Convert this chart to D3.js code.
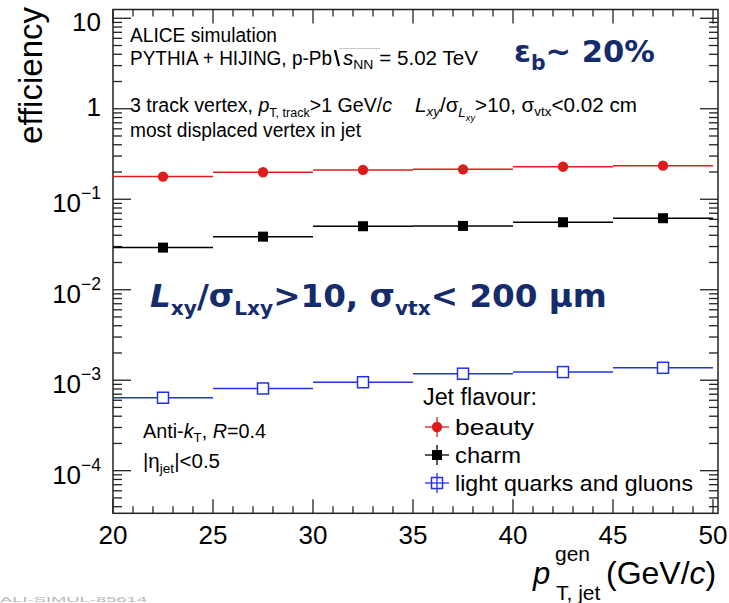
<!DOCTYPE html>
<html>
<head>
<meta charset="utf-8">
<script src="https://cdn.jsdelivr.net/npm/d3@7"></script>
<style>
  html, body { margin: 0; padding: 0; background: #fff; }
  svg text { white-space: pre; }
</style>
</head>
<body>
<svg id="chart" width="729" height="603"></svg>
<script>
// Jet-flavour efficiency vs generated jet pT (bin edges in GeV/c)
const binEdges = [20, 25, 30, 35, 40, 45, 50];
const beauty = [0.178, 0.199, 0.211, 0.214, 0.229, 0.235];
const charm  = [0.0292, 0.0386, 0.0503, 0.0507, 0.0557, 0.0617];
const light  = [0.00064, 0.00081, 0.00095, 0.00118, 0.00123, 0.00137];
const xTickLabels = [20, 25, 30, 35, 40, 45, 50];
const yDecades = [-4, -3, -2, -1, 0, 1];
const legendLabels = ["beauty", "charm", "light quarks and gluons"];

const FONT = "'Liberation Sans', Arial, Helvetica, sans-serif";
const WIDE = "'DejaVu Sans', Verdana, sans-serif";
const RED = "#dd1c1c", BLACK = "#000", BLUE = "#2230e6", NAVY = "#142b6c";

const svg = d3.select("#chart");
svg.append("rect").attr("width", 729).attr("height", 603).attr("fill", "#fff");

const frame = { left: 113, right: 718, top: 9.5, bottom: 513.3 };
const x = d3.scaleLinear().domain([20, 50]).range([113, 713]);
const y = d3.scaleLog().domain([Math.pow(10, -4.471), Math.pow(10, 1.097)]).range([frame.bottom, frame.top]);

// rich text: parts are strings or {t, s, dy, i, b}
function rich(sel, px, py, parts, base) {
  const t = sel.append("text").attr("x", px).attr("y", py)
    .attr("font-family", base.family || FONT).attr("font-size", base.size)
    .attr("fill", base.fill || "#000")
    .attr("font-weight", base.weight || "normal")
    .attr("text-anchor", base.anchor || "start");
  if (base.italic) t.attr("font-style", "italic");
  if (base.len) t.attr("textLength", base.len).attr("lengthAdjust", "spacingAndGlyphs");
  let cur = 0;
  parts.forEach(p => {
    const o = typeof p === "string" ? { t: p } : p;
    const shift = o.dy || 0;
    const ts = t.append("tspan").text(o.t).attr("dy", shift - cur);
    cur = shift;
    if (o.s) ts.attr("font-size", o.s);
    if (o.i) ts.attr("font-style", "italic");
    if (o.b) ts.attr("font-weight", "bold");
  });
  return t;
}
// scale a text uniformly about its anchor so that it spans the given width
function fitWidth(t, px, py, width) {
  const w = t.node().getComputedTextLength();
  const k = width / w;
  t.attr("transform", `translate(${px},${py}) scale(${k}) translate(${-px},${-py})`);
}

// ---- axes ticks ----
const axisG = svg.append("g").attr("stroke", "#222").attr("stroke-width", 1.3);
d3.range(20, 51, 1).forEach(v => {
  const major = v % 5 === 0;
  const len = major ? 14 : 7;
  axisG.append("line").attr("x1", x(v)).attr("x2", x(v)).attr("y1", frame.bottom).attr("y2", frame.bottom - len);
  axisG.append("line").attr("x1", x(v)).attr("x2", x(v)).attr("y1", frame.top).attr("y2", frame.top + len);
});
const yMin = y.domain()[0], yMax = y.domain()[1];
for (let d = -5; d <= 1; d++) {
  for (let m = 1; m <= 9; m++) {
    const v = m * Math.pow(10, d);
    if (v < yMin || v > yMax) continue;
    const len = m === 1 ? 18 : 9;
    axisG.append("line").attr("x1", frame.left).attr("x2", frame.left + len).attr("y1", y(v)).attr("y2", y(v));
    axisG.append("line").attr("x1", frame.right).attr("x2", frame.right - len).attr("y1", y(v)).attr("y2", y(v));
  }
}
svg.append("rect").attr("x", frame.left).attr("y", frame.top)
  .attr("width", frame.right - frame.left).attr("height", frame.bottom - frame.top)
  .attr("fill", "none").attr("stroke", "#222").attr("stroke-width", 1.5);

// tick labels
xTickLabels.forEach(v => {
  svg.append("text").attr("x", x(v)).attr("y", 544).attr("text-anchor", "middle")
    .attr("font-family", FONT).attr("font-size", 26).text(v);
});
yDecades.forEach(d => {
  const yy = y(Math.pow(10, d));
  if (d === 1) rich(svg, 101, yy + 13, ["10"], { size: 26, anchor: "end" });
  else if (d === 0) rich(svg, 101, yy + 7, ["1"], { size: 26, anchor: "end" });
  else rich(svg, 101, yy + 13, ["10", { t: "\u2212" + (-d), s: 17.5, dy: -13 }], { size: 26, anchor: "end" });
});

// axis titles
svg.append("text").attr("transform", "translate(42,7) rotate(-90)")
  .attr("text-anchor", "end").attr("font-family", FONT).attr("font-size", 33).text("efficiency");
rich(svg, 533, 584, [{ t: "p", i: true }], { size: 31 });
rich(svg, 555, 561, ["gen"], { size: 21 });
rich(svg, 556, 600, ["T, jet"], { size: 21 });
rich(svg, 606, 584, ["(GeV/", { t: "c", i: true }, ")"], { size: 32 });

// ---- data ----
const series = [
  { vals: light, color: BLUE, marker: "openSquare" },
  { vals: charm, color: BLACK, marker: "square" },
  { vals: beauty, color: RED, marker: "circle" }
];
const dataG = svg.append("g");
function drawMarker(g, cx, cy, kind, color) {
  if (kind === "circle") g.append("circle").attr("cx", cx).attr("cy", cy).attr("r", 5.2).attr("fill", color);
  else if (kind === "square") g.append("rect").attr("x", cx - 5).attr("y", cy - 5).attr("width", 10).attr("height", 10).attr("fill", color);
  else g.append("rect").attr("x", cx - 5.5).attr("y", cy - 5.5).attr("width", 11).attr("height", 11).attr("fill", "#fff").attr("stroke", color).attr("stroke-width", 1.5);
}
series.forEach(s => {
  s.vals.forEach((v, i) => {
    const x0 = binEdges[i], x1 = binEdges[i + 1];
    dataG.append("line").attr("x1", x(x0)).attr("x2", x(x1)).attr("y1", y(v)).attr("y2", y(v))
      .attr("stroke", s.color).attr("stroke-width", 1.5);
    drawMarker(dataG, x((x0 + x1) / 2), y(v), s.marker, s.color);
  });
});

// ---- annotation text ----
rich(svg, 130, 42, ["ALICE simulation"], { size: 20, len: 147 });
rich(svg, 130, 65, ["PYTHIA + HIJING, p-Pb"], { size: 20, len: 202 });
const sx = 335;
svg.append("path").attr("d", `M${sx},50 L${sx + 4},66`).attr("stroke", "#000").attr("stroke-width", 2.2).attr("fill", "none");
svg.append("line").attr("x1", sx + 4).attr("x2", sx + 45).attr("y1", 48.5).attr("y2", 48.5).attr("stroke", "#bbb").attr("stroke-width", 0.8);
rich(svg, 343, 65, [{ t: "s", i: true }, { t: "NN", s: 13.5, dy: 4 }, { t: " = 5.02 TeV", dy: 0 }], { size: 20, len: 135 });

rich(svg, 130, 112, ["3 track vertex, ", { t: "p", i: true }, { t: "T, track", s: 12.5, dy: 5 }, { t: ">1 GeV/", dy: 0 }, { t: "c", i: true }], { size: 19.5, len: 262 });
rich(svg, 415, 112, [{ t: "L", i: true }, { t: "xy", i: true, s: 13, dy: 4 }, { t: "/\u03C3", dy: 0 },
  { t: "L", i: true, s: 13, dy: 5 }, { t: "xy", i: true, s: 9, dy: 9 }, { t: ">10, \u03C3", dy: 0 },
  { t: "vtx", s: 13, dy: 4 }, { t: "<0.02 cm", dy: 0 }], { size: 20, len: 222 });
rich(svg, 130, 137, ["most displaced vertex in jet"], { size: 19.5, len: 231 });

const eb = rich(svg, 514, 62, [{ t: "\u03B5" }, { t: "b", s: 24, dy: 9 }, { t: "~ 20%", dy: 0 }], { size: 36, weight: "bold", fill: NAVY, family: WIDE });
fitWidth(eb, 514, 62, 141);
const cut = rich(svg, 150, 307, [{ t: "L", i: true }, { t: "xy", s: 21, dy: 8 }, { t: "/\u03C3", dy: 0 }, { t: "Lxy", s: 21, dy: 8 },
  { t: ">10, \u03C3", dy: 0 }, { t: "vtx", s: 21, dy: 8 }, { t: "< 200 \u03BCm", dy: 0 }], { size: 34, weight: "bold", fill: NAVY, family: WIDE });
fitWidth(cut, 150, 307, 457);

rich(svg, 143, 438, ["Anti-", { t: "k", i: true }, { t: "T", s: 13, dy: 4 }, { t: ", ", dy: 0 }, { t: "R", i: true }, "=0.4"], { size: 19.5, len: 123 });
rich(svg, 143, 468, ["|\u03B7", { t: "jet", s: 13, dy: 5 }, { t: "|<0.5", dy: 0 }], { size: 19.5, len: 77 });

// ---- legend ----
const legG = svg.append("g");
rich(legG, 423, 405, ["Jet flavour:"], { size: 23, len: 114 });
const legSeries = [series[2], series[1], series[0]];
const legLens = [79, 66, 238];
legSeries.forEach((s, i) => {
  const cy = 427 + i * 28;
  legG.append("line").attr("x1", 425).attr("x2", 449).attr("y1", cy).attr("y2", cy).attr("stroke", s.color).attr("stroke-width", 1.3);
  legG.append("line").attr("x1", 437).attr("x2", 437).attr("y1", cy - 10).attr("y2", cy + 10).attr("stroke", s.color).attr("stroke-width", 1.3);
  drawMarker(legG, 437, cy, s.marker, s.color);
  if (s.marker === "openSquare") {
    legG.append("line").attr("x1", 431.5).attr("x2", 442.5).attr("y1", cy).attr("y2", cy).attr("stroke", s.color).attr("stroke-width", 1.3);
    legG.append("line").attr("x1", 437).attr("x2", 437).attr("y1", cy - 5.5).attr("y2", cy + 5.5).attr("stroke", s.color).attr("stroke-width", 1.3);
  }
  rich(legG, 455, cy + 8, [legendLabels[i]], { size: 22.5, len: legLens[i] });
});

// figure reference id along the page foot
svg.append("text").attr("x", 0).attr("y", 602).attr("font-family", FONT).attr("font-size", 7)
  .attr("textLength", 147).attr("lengthAdjust", "spacingAndGlyphs")
  .attr("fill", "#b8b8b8").text("ALI-SIMUL-85614");
</script>
</body>
</html>
